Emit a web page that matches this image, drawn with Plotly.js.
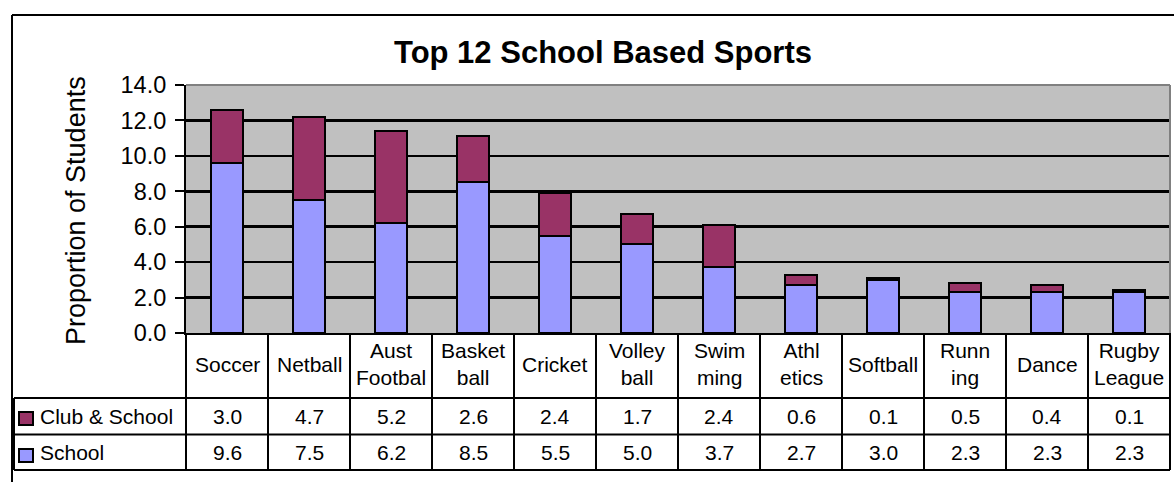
<!DOCTYPE html>
<html>
<head>
<meta charset="utf-8">
<script src="https://cdn.plot.ly/plotly-3.0.1.min.js"></script>
<style>html,body{margin:0;padding:0;background:#fff;}#chart{width:1174px;height:482px;}</style>
</head>
<body>
<div id="chart"></div>
<script>
// ---- data ----
const categories = ['Soccer','Netball','Aust Football','Basketball','Cricket','Volleyball','Swimming','Athletics','Softball','Running','Dance','Rugby League'];
const categoryLabels = ['Soccer','Netball','Aust<br>Footbal','Basket<br>ball','Cricket','Volley<br>ball','Swim<br>ming','Athl<br>etics','Softball','Runn<br>ing','Dance','Rugby<br>League'];
const schoolValues = [9.6, 7.5, 6.2, 8.5, 5.5, 5.0, 3.7, 2.7, 3.0, 2.3, 2.3, 2.3];
const clubSchoolValues = [3.0, 4.7, 5.2, 2.6, 2.4, 1.7, 2.4, 0.6, 0.1, 0.5, 0.4, 0.1];
const seriesNames = ['Club & School', 'School'];
const yTicks = [0, 2, 4, 6, 8, 10, 12, 14];
const chartTitle = 'Top 12 School Based Sports';
const yTitle = 'Proportion of Students';

// ---- style / layout ----
const W = 1174, H = 482;
const L = 186, R = 1170, T = 85, B = 333;
const FONT = 'Arial, "Liberation Sans", sans-serif';
const CLUB_COLOR = '#993366', SCHOOL_COLOR = '#9999FF';
const px = x => (x - L) / (R - L);
const py = y => (B - y) / (B - T);

const rowCatBottom = 398, rowClubBottom = 434.5, rowSchoolBottom = 470;
const tableLeft = 14;

const traces = [
  {type: 'bar', name: seriesNames[1], x: categories, y: schoolValues,
   marker: {color: SCHOOL_COLOR, line: {color: '#000', width: 2}}, hoverinfo: 'none'},
  {type: 'bar', name: seriesNames[0], x: categories, y: clubSchoolValues,
   marker: {color: CLUB_COLOR, line: {color: '#000', width: 2}}, hoverinfo: 'none'}
];

const shapes = [];
const annotations = [];
const line = (x0, y0, x1, y1, color, width, xref) => shapes.push({
  type: 'line', xref: xref || 'paper', yref: 'paper', x0, y0, x1, y1,
  line: {color: color || '#000', width: width || 2}, layer: 'above'
});

// outer chart border
line(px(12), py(15), px(12), py(490));
line(px(12), py(15), px(1180), py(15));
// plot area top/right gray border
line(0, 1, 1, 1, '#808080', 2);
line(1, 0, 1, 1, '#808080', 2);

// table horizontal lines
[rowCatBottom, rowClubBottom, rowSchoolBottom].forEach(y => line(px(tableLeft), py(y), 1, py(y)));
// table vertical lines
line(0, py(B), 0, py(rowSchoolBottom));
line(1, py(B), 1, py(rowSchoolBottom));
line(px(tableLeft), py(rowCatBottom), px(tableLeft), py(rowSchoolBottom));
for (let k = 1; k < categories.length; k++) {
  shapes.push({type: 'line', xref: 'x', yref: 'paper', x0: k - 0.5, x1: k - 0.5,
    y0: py(B), y1: py(rowSchoolBottom), line: {color: '#000', width: 2}, layer: 'above'});
}

// legend swatches
const swatch = (y0, y1, color) => shapes.push({type: 'rect', xref: 'paper', yref: 'paper',
  x0: px(19), x1: px(33), y0: py(y0), y1: py(y1), fillcolor: color, line: {color: '#000', width: 2}, layer: 'above'});
swatch(412, 425, CLUB_COLOR);
swatch(449, 462, SCHOOL_COLOR);

const tfont = {family: FONT, size: 21, color: '#000'};
annotations.push({xref: 'paper', yref: 'paper', x: px(38), y: py((rowCatBottom + rowClubBottom) / 2),
  xanchor: 'left', yanchor: 'middle', text: seriesNames[0], showarrow: false, font: tfont});
annotations.push({xref: 'paper', yref: 'paper', x: px(38), y: py((rowClubBottom + rowSchoolBottom) / 2),
  xanchor: 'left', yanchor: 'middle', text: seriesNames[1], showarrow: false, font: tfont});

categories.forEach((c, i) => {
  annotations.push({xref: 'x', yref: 'paper', x: c, y: py((B + rowCatBottom) / 2 - 1.5),
    xanchor: 'center', yanchor: 'middle', text: categoryLabels[i], showarrow: false, font: tfont});
  annotations.push({xref: 'x', yref: 'paper', x: c, y: py((rowCatBottom + rowClubBottom) / 2),
    xanchor: 'center', yanchor: 'middle', text: clubSchoolValues[i].toFixed(1), showarrow: false, font: tfont});
  annotations.push({xref: 'x', yref: 'paper', x: c, y: py((rowClubBottom + rowSchoolBottom) / 2),
    xanchor: 'center', yanchor: 'middle', text: schoolValues[i].toFixed(1), showarrow: false, font: tfont});
});

// titles
annotations.push({xref: 'paper', yref: 'paper', x: px(603), y: py(53), xanchor: 'center', yanchor: 'middle',
  text: '<b>' + chartTitle + '</b>', showarrow: false, font: {family: FONT, size: 31, color: '#000'}});
annotations.push({xref: 'paper', yref: 'paper', x: px(76), y: py(211), xanchor: 'center', yanchor: 'middle',
  text: yTitle, textangle: -90, showarrow: false, font: {family: FONT, size: 27, color: '#000'}});

const layout = {
  width: W, height: H,
  margin: {l: L, r: W - R, t: T, b: H - B, pad: 0},
  paper_bgcolor: '#fff', plot_bgcolor: '#C0C0C0',
  barmode: 'stack', bargap: 0.6, showlegend: false,
  font: {family: FONT, color: '#000'},
  xaxis: {type: 'category', categoryorder: 'array', categoryarray: categories,
    range: [-0.5, categories.length - 0.5], showticklabels: false, ticks: '',
    showgrid: false, zeroline: false, showline: true, linecolor: '#000', linewidth: 2, fixedrange: true},
  yaxis: {range: [0, 14], tickvals: yTicks, ticktext: yTicks.map(v => v.toFixed(1)),
    showgrid: true, gridcolor: '#000', gridwidth: 2.5, zeroline: false,
    showline: true, linecolor: '#000', linewidth: 2,
    ticks: 'outside', ticklen: 9, tickwidth: 2, tickcolor: '#000',
    tickfont: {family: FONT, size: 23.5, color: '#000'}, ticklabelstandoff: 4, fixedrange: true},
  shapes, annotations
};

Plotly.newPlot('chart', traces, layout, {displayModeBar: false, staticPlot: true});
</script>
</body>
</html>
